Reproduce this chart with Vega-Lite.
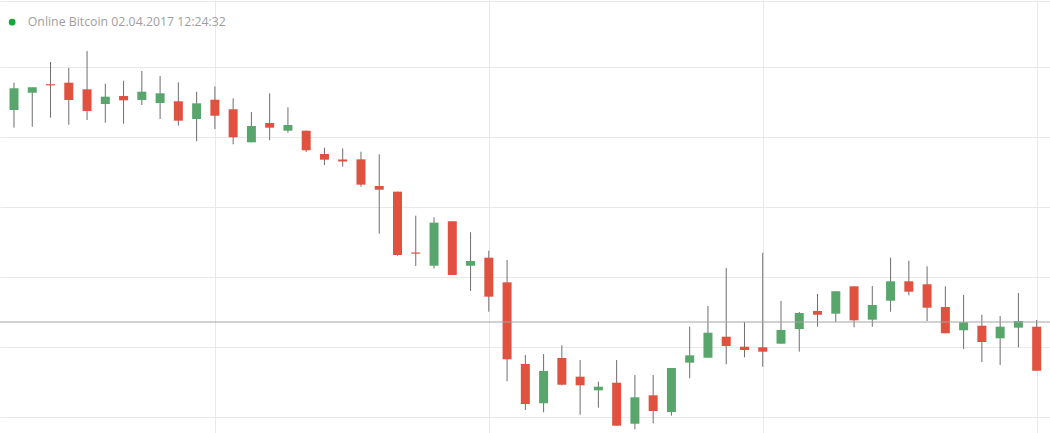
{
  "$schema": "https://vega.github.io/schema/vega-lite/v6.json",
  "width": 1050,
  "height": 433,
  "padding": 0,
  "autosize": "none",
  "background": "#ffffff",
  "config": {"view": {"stroke": null}, "font": "Open Sans"},
  "datasets": {
    "candles": [
      {"i": 0, "open": 143.86, "close": 146.96, "high": 147.76, "low": 141.33},
      {"i": 1, "open": 146.33, "close": 147.10, "high": 147.10, "low": 141.47},
      {"i": 2, "open": 147.54, "close": 147.37, "high": 150.71, "low": 142.76},
      {"i": 3, "open": 147.76, "close": 145.29, "high": 149.86, "low": 141.76},
      {"i": 4, "open": 146.81, "close": 143.71, "high": 152.29, "low": 142.43},
      {"i": 5, "open": 144.71, "close": 145.76, "high": 147.61, "low": 142.04},
      {"i": 6, "open": 145.86, "close": 145.24, "high": 148.04, "low": 141.90},
      {"i": 7, "open": 145.29, "close": 146.47, "high": 149.43, "low": 144.57},
      {"i": 8, "open": 144.86, "close": 146.24, "high": 148.71, "low": 142.57},
      {"i": 9, "open": 145.10, "close": 142.33, "high": 147.81, "low": 141.61},
      {"i": 10, "open": 142.57, "close": 144.81, "high": 146.47, "low": 139.39},
      {"i": 11, "open": 145.33, "close": 143.04, "high": 147.24, "low": 141.14},
      {"i": 12, "open": 143.96, "close": 139.96, "high": 145.53, "low": 138.96},
      {"i": 13, "open": 139.24, "close": 141.57, "high": 143.57, "low": 139.24},
      {"i": 14, "open": 142.00, "close": 141.33, "high": 146.24, "low": 139.53},
      {"i": 15, "open": 140.90, "close": 141.71, "high": 144.24, "low": 140.61},
      {"i": 16, "open": 140.90, "close": 138.10, "high": 140.90, "low": 137.86},
      {"i": 17, "open": 137.57, "close": 136.76, "high": 138.47, "low": 136.00},
      {"i": 18, "open": 136.79, "close": 136.50, "high": 138.36, "low": 135.76},
      {"i": 19, "open": 136.81, "close": 133.19, "high": 137.90, "low": 132.90},
      {"i": 20, "open": 133.00, "close": 132.47, "high": 137.53, "low": 126.19},
      {"i": 21, "open": 132.19, "close": 123.14, "high": 132.19, "low": 123.04},
      {"i": 22, "open": 123.50, "close": 123.33, "high": 128.76, "low": 121.57},
      {"i": 23, "open": 121.61, "close": 127.76, "high": 128.53, "low": 121.24},
      {"i": 24, "open": 127.96, "close": 120.29, "high": 127.96, "low": 120.29},
      {"i": 25, "open": 121.61, "close": 122.29, "high": 126.39, "low": 118.00},
      {"i": 26, "open": 122.76, "close": 117.19, "high": 123.76, "low": 115.04},
      {"i": 27, "open": 119.24, "close": 108.24, "high": 122.43, "low": 105.10},
      {"i": 28, "open": 107.57, "close": 101.86, "high": 108.86, "low": 101.00},
      {"i": 29, "open": 101.96, "close": 106.57, "high": 109.00, "low": 100.67},
      {"i": 30, "open": 108.43, "close": 104.61, "high": 110.24, "low": 104.53},
      {"i": 31, "open": 105.76, "close": 104.53, "high": 108.14, "low": 100.33},
      {"i": 32, "open": 103.81, "close": 104.33, "high": 105.04, "low": 101.33},
      {"i": 33, "open": 104.90, "close": 98.76, "high": 108.14, "low": 98.76},
      {"i": 34, "open": 99.04, "close": 102.81, "high": 106.00, "low": 98.24},
      {"i": 35, "open": 103.10, "close": 100.86, "high": 106.00, "low": 99.10},
      {"i": 36, "open": 100.71, "close": 107.00, "high": 107.00, "low": 100.19},
      {"i": 37, "open": 107.76, "close": 108.81, "high": 112.90, "low": 105.53},
      {"i": 38, "open": 108.47, "close": 112.04, "high": 115.86, "low": 108.47},
      {"i": 39, "open": 111.47, "close": 110.14, "high": 121.29, "low": 107.53},
      {"i": 40, "open": 110.04, "close": 109.57, "high": 113.57, "low": 108.53},
      {"i": 41, "open": 109.96, "close": 109.33, "high": 123.47, "low": 107.19},
      {"i": 42, "open": 110.47, "close": 112.43, "high": 116.57, "low": 110.47},
      {"i": 43, "open": 112.57, "close": 114.86, "high": 115.00, "low": 109.33},
      {"i": 44, "open": 115.14, "close": 114.61, "high": 117.57, "low": 112.90},
      {"i": 45, "open": 114.76, "close": 117.96, "high": 117.96, "low": 113.57},
      {"i": 46, "open": 118.67, "close": 113.81, "high": 118.67, "low": 112.81},
      {"i": 47, "open": 113.90, "close": 116.00, "high": 118.71, "low": 112.90},
      {"i": 48, "open": 116.61, "close": 119.39, "high": 122.76, "low": 115.04},
      {"i": 49, "open": 119.39, "close": 117.90, "high": 122.33, "low": 117.39},
      {"i": 50, "open": 118.96, "close": 115.61, "high": 121.53, "low": 113.71},
      {"i": 51, "open": 115.71, "close": 111.96, "high": 118.67, "low": 111.96},
      {"i": 52, "open": 112.39, "close": 113.53, "high": 117.43, "low": 109.71},
      {"i": 53, "open": 113.04, "close": 110.71, "high": 114.61, "low": 107.86},
      {"i": 54, "open": 111.24, "close": 112.90, "high": 114.43, "low": 107.43},
      {"i": 55, "open": 112.76, "close": 113.71, "high": 117.71, "low": 109.96},
      {"i": 56, "open": 112.90, "close": 106.61, "high": 113.86, "low": 106.61}
    ],
    "current": [{"price": 113.57}],
    "status": [{"label": "Online Bitcoin 02.04.2017 12:24:32"}]
  },
  "layer": [
    {
      "data": {"name": "candles"},
      "mark": {"type": "rule", "color": "#6e6e6e", "strokeWidth": 1},
      "encoding": {
        "x": {
          "field": "i", "type": "quantitative",
          "scale": {"domain": [-0.7666, 56.73], "nice": false, "zero": false, "padding": 0},
          "axis": {"title": null, "labels": false, "ticks": false, "domain": false, "grid": true, "gridColor": "#e9e9e9", "values": [11, 26, 41, 56]}
        },
        "y": {
          "field": "low", "type": "quantitative",
          "scale": {"domain": [97.714, 159.571], "nice": false, "zero": false, "padding": 0},
          "axis": {"title": null, "labels": false, "ticks": false, "domain": false, "grid": true, "gridColor": "#e9e9e9", "values": [100, 110, 120, 130, 140, 150, 159.4]}
        },
        "y2": {"field": "high"}
      }
    },
    {
      "data": {"name": "candles"},
      "mark": {"type": "bar", "size": 9},
      "encoding": {
        "x": {"field": "i", "type": "quantitative"},
        "y": {"field": "open", "type": "quantitative"},
        "y2": {"field": "close"},
        "color": {"condition": {"test": "datum.close >= datum.open", "value": "#58a66b"}, "value": "#e0513f"}
      }
    },
    {
      "data": {"name": "current"},
      "mark": {"type": "rule", "color": "#a3a3a3", "strokeWidth": 1},
      "encoding": {"y": {"field": "price", "type": "quantitative"}}
    },
    {
      "data": {"name": "status"},
      "mark": {"type": "point", "filled": true, "opacity": 0},
      "encoding": {
        "fill": {
          "field": "label", "type": "nominal",
          "scale": {"range": ["#16a83a"]},
          "legend": {
            "title": null, "orient": "none", "legendX": 6, "legendY": 16,
            "symbolType": "circle", "symbolSize": 45, "symbolOpacity": 1, "symbolStrokeWidth": 0,
            "labelFont": "Open Sans", "labelFontSize": 12.3, "labelColor": "#9e9e9e", "labelOffset": 9.5, "labelLimit": 0, "padding": 0
          }
        }
      }
    }
  ]
}
